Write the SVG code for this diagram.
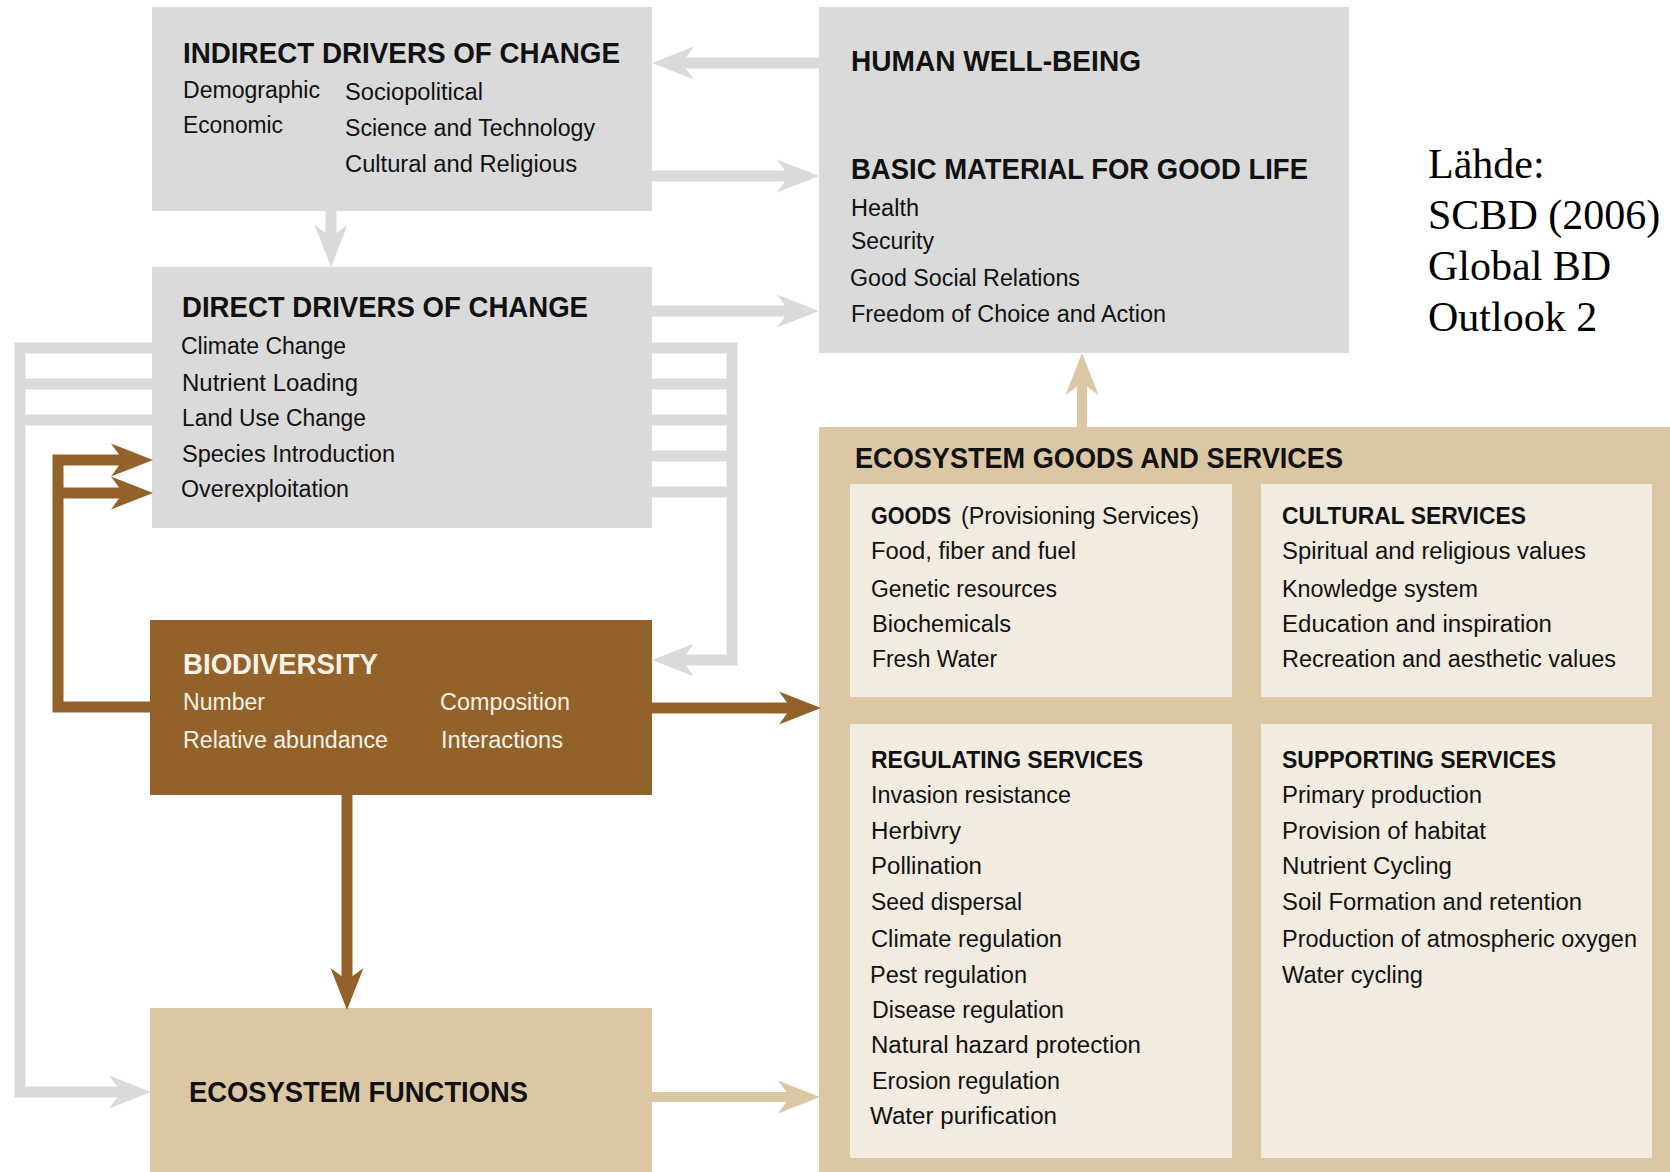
<svg xmlns="http://www.w3.org/2000/svg" width="1670" height="1172" viewBox="0 0 1670 1172">
<style>
.gray{fill:#dadada}
.tanbox{fill:#dcc7a5}
.cream{fill:#f1ebe0}
.brownbox{fill:#93622a}
.h{font-family:"Liberation Sans",Arial,sans-serif;font-weight:bold;font-size:29px;fill:#111}
.sh{font-family:"Liberation Sans",Arial,sans-serif;font-weight:bold;font-size:23px;fill:#111}
.t{font-family:"Liberation Sans",Arial,sans-serif;font-size:23px;fill:#111}
.w{fill:#f8f1e7}
.src{font-family:"Liberation Serif","Times New Roman",serif;font-size:42px;fill:#000}
.cg{fill:none;stroke:#dadada;stroke-width:11;stroke-linejoin:miter}
.cb{fill:none;stroke:#93622a;stroke-width:11;stroke-linejoin:miter}
.ct{fill:none;stroke:#dcc7a5;stroke-width:10;stroke-linejoin:miter}
</style>
<defs>
<marker id="ahGray" viewBox="0 0 42 34" refX="14" refY="17" markerWidth="42" markerHeight="34" markerUnits="userSpaceOnUse" orient="auto"><path d="M0,0.5 L42,17 L0,33.5 L12,17 Z" fill="#dadada"/></marker>
<marker id="ahBrown" viewBox="0 0 42 34" refX="14" refY="17" markerWidth="42" markerHeight="34" markerUnits="userSpaceOnUse" orient="auto"><path d="M0,0.5 L42,17 L0,33.5 L12,17 Z" fill="#93622a"/></marker>
<marker id="ahTan" viewBox="0 0 42 34" refX="14" refY="17" markerWidth="42" markerHeight="34" markerUnits="userSpaceOnUse" orient="auto"><path d="M0,0.5 L42,17 L0,33.5 L12,17 Z" fill="#dcc7a5"/></marker>
</defs>
<rect width="1670" height="1172" fill="#fff"/>

<g id="indirect-drivers">
<rect class="gray" x="152" y="7" width="500" height="204"/>
<text class="h" x="183" y="63" textLength="437" lengthAdjust="spacingAndGlyphs">INDIRECT DRIVERS OF CHANGE</text>
<text class="t" x="183" y="98" textLength="137" lengthAdjust="spacingAndGlyphs">Demographic</text>
<text class="t" x="183" y="133" textLength="100" lengthAdjust="spacingAndGlyphs">Economic</text>
<text class="t" x="345" y="100" textLength="138" lengthAdjust="spacingAndGlyphs">Sociopolitical</text>
<text class="t" x="345" y="136" textLength="250" lengthAdjust="spacingAndGlyphs">Science and Technology</text>
<text class="t" x="345" y="172" textLength="232" lengthAdjust="spacingAndGlyphs">Cultural and Religious</text>
</g>

<g id="human-well-being">
<rect class="gray" x="819" y="7" width="530" height="346"/>
<text class="h" x="851" y="71" textLength="290" lengthAdjust="spacingAndGlyphs">HUMAN WELL-BEING</text>
<text class="h" x="851" y="179" textLength="457" lengthAdjust="spacingAndGlyphs">BASIC MATERIAL FOR GOOD LIFE</text>
<text class="t" x="851" y="216" textLength="68" lengthAdjust="spacingAndGlyphs">Health</text>
<text class="t" x="851" y="249" textLength="83" lengthAdjust="spacingAndGlyphs">Security</text>
<text class="t" x="850" y="286" textLength="230" lengthAdjust="spacingAndGlyphs">Good Social Relations</text>
<text class="t" x="851" y="322" textLength="315" lengthAdjust="spacingAndGlyphs">Freedom of Choice and Action</text>
</g>

<g id="source">
<text class="src" x="1428" y="178">Lähde:</text>
<text class="src" x="1428" y="229">SCBD (2006)</text>
<text class="src" x="1428" y="280">Global BD</text>
<text class="src" x="1428" y="331">Outlook 2</text>
</g>

<g id="direct-drivers">
<rect class="gray" x="152" y="267" width="500" height="261"/>
<text class="h" x="182" y="317" textLength="406" lengthAdjust="spacingAndGlyphs">DIRECT DRIVERS OF CHANGE</text>
<text class="t" x="181" y="354" textLength="165" lengthAdjust="spacingAndGlyphs">Climate Change</text>
<text class="t" x="182" y="391" textLength="176" lengthAdjust="spacingAndGlyphs">Nutrient Loading</text>
<text class="t" x="182" y="426" textLength="184" lengthAdjust="spacingAndGlyphs">Land Use Change</text>
<text class="t" x="182" y="462" textLength="213" lengthAdjust="spacingAndGlyphs">Species Introduction</text>
<text class="t" x="181" y="497" textLength="168" lengthAdjust="spacingAndGlyphs">Overexploitation</text>
</g>

<g id="biodiversity">
<rect class="brownbox" x="150" y="620" width="502" height="175"/>
<text class="h w" x="183" y="674" textLength="195" lengthAdjust="spacingAndGlyphs">BIODIVERSITY</text>
<text class="t w" x="183" y="710" textLength="82" lengthAdjust="spacingAndGlyphs">Number</text>
<text class="t w" x="183" y="748" textLength="205" lengthAdjust="spacingAndGlyphs">Relative abundance</text>
<text class="t w" x="440" y="710" textLength="130" lengthAdjust="spacingAndGlyphs">Composition</text>
<text class="t w" x="441" y="748" textLength="122" lengthAdjust="spacingAndGlyphs">Interactions</text>
</g>

<g id="ecosystem-functions">
<rect class="tanbox" x="150" y="1008" width="502" height="164"/>
<text class="h" x="189" y="1102" textLength="339" lengthAdjust="spacingAndGlyphs">ECOSYSTEM FUNCTIONS</text>
</g>

<g id="ecosystem-goods-services">
<rect class="tanbox" x="819" y="427" width="851" height="745"/>
<text class="h" x="855" y="468" textLength="488" lengthAdjust="spacingAndGlyphs">ECOSYSTEM GOODS AND SERVICES</text>
</g>

<g id="goods">
<rect class="cream" x="850" y="484" width="382" height="213"/>
<text class="t" y="524"><tspan class="sh" x="871" textLength="80" lengthAdjust="spacingAndGlyphs">GOODS</tspan><tspan x="961" textLength="238" lengthAdjust="spacingAndGlyphs">(Provisioning Services)</tspan></text>
<text class="t" x="871" y="559" textLength="205" lengthAdjust="spacingAndGlyphs">Food, fiber and fuel</text>
<text class="t" x="871" y="597" textLength="186" lengthAdjust="spacingAndGlyphs">Genetic resources</text>
<text class="t" x="872" y="632" textLength="139" lengthAdjust="spacingAndGlyphs">Biochemicals</text>
<text class="t" x="872" y="667" textLength="125" lengthAdjust="spacingAndGlyphs">Fresh Water</text>
</g>

<g id="cultural-services">
<rect class="cream" x="1261" y="484" width="391" height="213"/>
<text class="sh" x="1282" y="524" textLength="244" lengthAdjust="spacingAndGlyphs">CULTURAL SERVICES</text>
<text class="t" x="1282" y="559" textLength="304" lengthAdjust="spacingAndGlyphs">Spiritual and religious values</text>
<text class="t" x="1282" y="597" textLength="196" lengthAdjust="spacingAndGlyphs">Knowledge system</text>
<text class="t" x="1282" y="632" textLength="270" lengthAdjust="spacingAndGlyphs">Education and inspiration</text>
<text class="t" x="1282" y="667" textLength="334" lengthAdjust="spacingAndGlyphs">Recreation and aesthetic values</text>
</g>

<g id="regulating-services">
<rect class="cream" x="850" y="724" width="382" height="434"/>
<text class="sh" x="871" y="768" textLength="272" lengthAdjust="spacingAndGlyphs">REGULATING SERVICES</text>
<text class="t" x="871" y="803" textLength="200" lengthAdjust="spacingAndGlyphs">Invasion resistance</text>
<text class="t" x="871" y="839" textLength="90" lengthAdjust="spacingAndGlyphs">Herbivry</text>
<text class="t" x="871" y="874" textLength="111" lengthAdjust="spacingAndGlyphs">Pollination</text>
<text class="t" x="871" y="910" textLength="151" lengthAdjust="spacingAndGlyphs">Seed dispersal</text>
<text class="t" x="871" y="947" textLength="191" lengthAdjust="spacingAndGlyphs">Climate regulation</text>
<text class="t" x="870" y="983" textLength="157" lengthAdjust="spacingAndGlyphs">Pest regulation</text>
<text class="t" x="872" y="1018" textLength="192" lengthAdjust="spacingAndGlyphs">Disease regulation</text>
<text class="t" x="871" y="1053" textLength="270" lengthAdjust="spacingAndGlyphs">Natural hazard protection</text>
<text class="t" x="872" y="1089" textLength="188" lengthAdjust="spacingAndGlyphs">Erosion regulation</text>
<text class="t" x="870" y="1124" textLength="187" lengthAdjust="spacingAndGlyphs">Water purification</text>
</g>

<g id="supporting-services">
<rect class="cream" x="1261" y="724" width="391" height="434"/>
<text class="sh" x="1282" y="768" textLength="274" lengthAdjust="spacingAndGlyphs">SUPPORTING SERVICES</text>
<text class="t" x="1282" y="803" textLength="200" lengthAdjust="spacingAndGlyphs">Primary production</text>
<text class="t" x="1282" y="839" textLength="204" lengthAdjust="spacingAndGlyphs">Provision of habitat</text>
<text class="t" x="1282" y="874" textLength="170" lengthAdjust="spacingAndGlyphs">Nutrient Cycling</text>
<text class="t" x="1282" y="910" textLength="300" lengthAdjust="spacingAndGlyphs">Soil Formation and retention</text>
<text class="t" x="1282" y="947" textLength="355" lengthAdjust="spacingAndGlyphs">Production of atmospheric oxygen</text>
<text class="t" x="1282" y="983" textLength="141" lengthAdjust="spacingAndGlyphs">Water cycling</text>
</g>

<g id="connectors">
<path class="cg" d="M819,63 H680" marker-end="url(#ahGray)"/>
<path class="cg" d="M652,176 H791" marker-end="url(#ahGray)"/>
<path class="cg" d="M331,211 V239" marker-end="url(#ahGray)"/>
<path class="cg" d="M652,311 H791" marker-end="url(#ahGray)"/>
<path class="cg" d="M152,348 H20 V1092 H123" marker-end="url(#ahGray)"/>
<path class="cg" d="M152,384 H20"/>
<path class="cg" d="M152,420 H20"/>
<path class="cg" d="M652,348 H732 V660 H680" marker-end="url(#ahGray)"/>
<path class="cg" d="M652,384 H732"/>
<path class="cg" d="M652,420 H732"/>
<path class="cg" d="M652,456 H732"/>
<path class="cg" d="M652,492 H732"/>
<path class="cb" d="M150,707 H58 V460 H125" marker-end="url(#ahBrown)"/>
<path class="cb" d="M58,493 H125" marker-end="url(#ahBrown)"/>
<path class="cb" d="M652,708 H793" marker-end="url(#ahBrown)"/>
<path class="cb" d="M347,795 V982" marker-end="url(#ahBrown)"/>
<path class="ct" d="M652,1097 H792" marker-end="url(#ahTan)"/>
<path class="ct" d="M1082,427 V381" marker-end="url(#ahTan)"/>
</g>
</svg>
